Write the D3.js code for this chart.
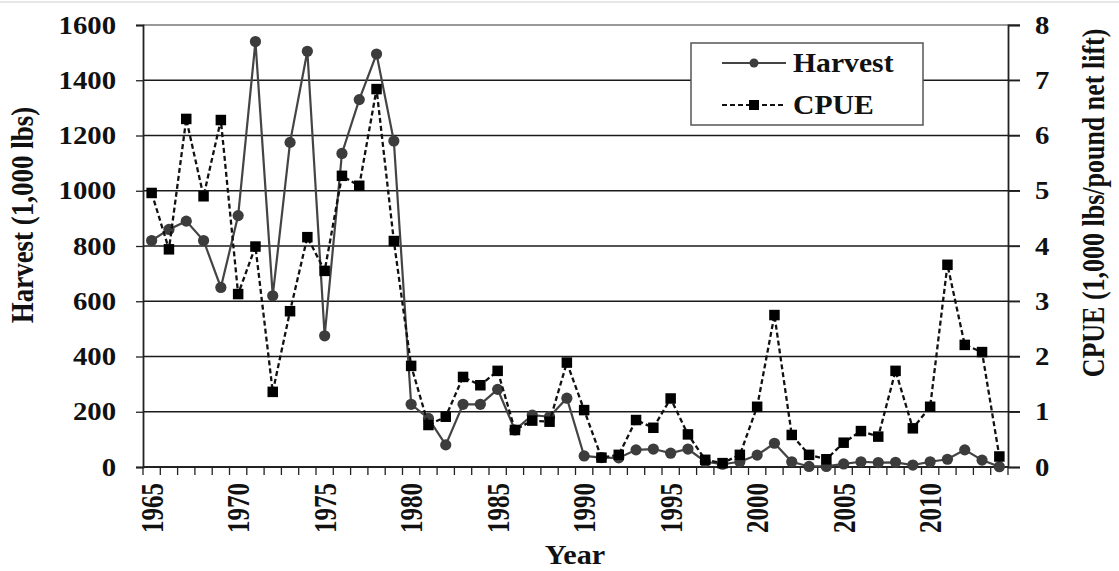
<!DOCTYPE html>
<html>
<head>
<meta charset="utf-8">
<script src="https://cdn.jsdelivr.net/npm/d3@7"></script>
<style>
  body { margin: 0; background: #fff; }
  svg text { font-family: "Liberation Serif", "Times New Roman", serif; font-weight: bold; fill: #111; }
</style>
</head>
<body>
<div id="chart"></div>
<script>
// data
var years = d3.range(1965, 2015);
var harvest = [820, 860, 890, 820, 650, 910, 1540, 620, 1175, 1505,
               475, 1135, 1330, 1495, 1180, 227, 176, 80, 227, 227,
               281, 134, 188, 182, 249, 40, 34, 33, 62, 65,
               50, 65, 19, 10, 19, 43, 86, 19, 2, 2,
               11, 19, 16, 17, 7, 19, 28, 62, 25, 1];
var cpue = [4.96, 3.94, 6.30, 4.90, 6.28, 3.13, 3.99, 1.36, 2.82, 4.16,
            3.55, 5.27, 5.09, 6.84, 4.09, 1.83, 0.76, 0.91, 1.63, 1.48,
            1.74, 0.67, 0.84, 0.82, 1.89, 1.03, 0.17, 0.22, 0.85, 0.71,
            1.24, 0.59, 0.13, 0.07, 0.22, 1.09, 2.75, 0.58, 0.22, 0.14,
            0.44, 0.65, 0.55, 1.74, 0.70, 1.09, 3.66, 2.21, 2.08, 0.19];
var leftTicks = [0, 200, 400, 600, 800, 1000, 1200, 1400, 1600];
var rightTicks = [0, 1, 2, 3, 4, 5, 6, 7, 8];
var yearLabels = [1965, 1970, 1975, 1980, 1985, 1990, 1995, 2000, 2005, 2010];

var width = 1119, height = 571;
var plot = {left: 143, right: 1008, top: 25, bottom: 467};
var stretch = 1.15; // the original figure is a bit wider than tall

var svg = d3.select("#chart").append("svg")
    .attr("width", width)
    .attr("height", height);

// faint border line at the very top of the image
svg.append("line")
    .attr("x1", 0).attr("x2", width).attr("y1", 2).attr("y2", 2)
    .style("stroke", "#e6e6e6").style("stroke-width", 2);

var x = d3.scaleBand().domain(years).range([plot.left, plot.right]).padding(0);
var yL = d3.scaleLinear().domain([0, 1600]).range([plot.bottom, plot.top]);
var yR = d3.scaleLinear().domain([0, 8]).range([plot.bottom, plot.top]);
var cx = function (yr) { return x(yr) + x.bandwidth() / 2; };

//Gridlines
svg.append("g").selectAll("line")
    .data(leftTicks.filter(d => d > 0))
    .enter().append("line")
    .attr("x1", plot.left).attr("x2", plot.right + 12)
    .attr("y1", d => yL(d)).attr("y2", d => yL(d))
    .style("stroke", d => d === 1600 ? "#777" : "#1a1a1a")
    .style("stroke-width", 1.3);

//Left axis (labels drawn by hand so they can be stretched)
var leftAxis = d3.axisLeft(yL).tickValues(leftTicks).tickSize(7).tickFormat("");
var gL = svg.append("g").attr("transform", "translate(" + plot.left + ",0)").call(leftAxis);
gL.select(".domain").style("stroke", "#222").style("stroke-width", 1.8);
gL.selectAll(".tick line").style("stroke", "#222").style("stroke-width", 1.3);

svg.append("g").selectAll("text")
    .data(leftTicks)
    .enter().append("text")
    .attr("transform", d => "translate(116," + yL(d) + ") scale(" + stretch + ",1)")
    .attr("dy", "0.34em")
    .attr("text-anchor", "end")
    .style("font-size", "25px")
    .text(d => d);

//Right axis
var rightAxis = d3.axisRight(yR).tickValues(rightTicks).tickSize(12).tickFormat("");
var gR = svg.append("g").attr("transform", "translate(" + plot.right + ",0)").call(rightAxis);
gR.select(".domain").style("stroke", "#222").style("stroke-width", 1.8);
gR.selectAll(".tick line").style("stroke", "#222").style("stroke-width", 1.3);

svg.append("g").selectAll("text")
    .data(rightTicks)
    .enter().append("text")
    .attr("transform", d => "translate(1035," + yR(d) + ") scale(" + stretch + ",1)")
    .attr("dy", "0.34em")
    .attr("text-anchor", "start")
    .style("font-size", "25px")
    .text(d => d);

//Bottom axis, ticks between categories
svg.append("line")
    .attr("x1", plot.left).attr("x2", plot.right)
    .attr("y1", plot.bottom).attr("y2", plot.bottom)
    .style("stroke", "#222").style("stroke-width", 1.8);
var bounds = years.map(d => x(d)).concat([plot.right]);
svg.append("g").selectAll("line")
    .data(bounds)
    .enter().append("line")
    .attr("x1", d => d).attr("x2", d => d)
    .attr("y1", plot.bottom).attr("y2", plot.bottom + 8)
    .style("stroke", "#222").style("stroke-width", 1.3);

svg.append("g").selectAll("text")
    .data(yearLabels)
    .enter().append("text")
    .attr("transform", d => "translate(" + cx(d) + "," + (plot.bottom + 16) + ") scale(1.25,1) rotate(-90)")
    .attr("dy", "0.35em")
    .attr("text-anchor", "end")
    .style("font-size", "25px")
    .text(d => d);

//Axis titles
svg.append("text")
    .attr("transform", "translate(33,215) scale(1.2,1) rotate(-90)")
    .attr("text-anchor", "middle")
    .style("font-size", "27px")
    .text("Harvest (1,000 lbs)");

svg.append("text")
    .attr("transform", "translate(1104,203) scale(1.2,1) rotate(-90)")
    .attr("text-anchor", "middle")
    .style("font-size", "26px")
    .text("CPUE (1,000 lbs/pound net lift)");

svg.append("text")
    .attr("transform", "translate(575,564) scale(1.08,1)")
    .attr("text-anchor", "middle")
    .style("font-size", "28px")
    .text("Year");

//Harvest series
var harvestData = years.map((d, i) => ({year: d, value: harvest[i]}));
var cpueData = years.map((d, i) => ({year: d, value: cpue[i]}));

svg.append("path")
    .datum(harvestData)
    .attr("d", d3.line().x(d => cx(d.year)).y(d => yL(d.value)))
    .style("fill", "none")
    .style("stroke", "#444")
    .style("stroke-width", 2.2);

svg.append("g").selectAll("circle")
    .data(harvestData)
    .enter().append("circle")
    .attr("cx", d => cx(d.year)).attr("cy", d => yL(d.value))
    .attr("r", 5.6)
    .style("fill", "#3c3c3c");

//CPUE series
svg.append("path")
    .datum(cpueData)
    .attr("d", d3.line().x(d => cx(d.year)).y(d => yR(d.value)))
    .style("fill", "none")
    .style("stroke", "#111")
    .style("stroke-width", 2.3)
    .style("stroke-dasharray", "5,3");

var sq = 10.5;
svg.append("g").selectAll("rect")
    .data(cpueData)
    .enter().append("rect")
    .attr("x", d => cx(d.year) - sq / 2).attr("y", d => yR(d.value) - sq / 2)
    .attr("width", sq).attr("height", sq)
    .style("fill", "#000");

//Legend
var lg = svg.append("g").attr("class", "legendWrapper");
lg.append("rect")
    .attr("x", 691).attr("y", 43).attr("width", 232).attr("height", 82)
    .style("fill", "#fff").style("stroke", "#555").style("stroke-width", 1.5);

lg.append("line")
    .attr("x1", 722).attr("x2", 786).attr("y1", 63).attr("y2", 63)
    .style("stroke", "#444").style("stroke-width", 2);
lg.append("circle").attr("cx", 754).attr("cy", 63).attr("r", 4.5).style("fill", "#3c3c3c");
lg.append("text").attr("transform", "translate(793,72) scale(1.06,1)").style("font-size", "28px").text("Harvest");

lg.append("line")
    .attr("x1", 722).attr("x2", 786).attr("y1", 105).attr("y2", 105)
    .style("stroke", "#111").style("stroke-width", 2)
    .style("stroke-dasharray", "5,3");
lg.append("rect").attr("x", 749).attr("y", 100).attr("width", 10).attr("height", 10).style("fill", "#000");
lg.append("text").attr("transform", "translate(793,114) scale(1.06,1)").style("font-size", "28px").text("CPUE");
</script>
</body>
</html>
